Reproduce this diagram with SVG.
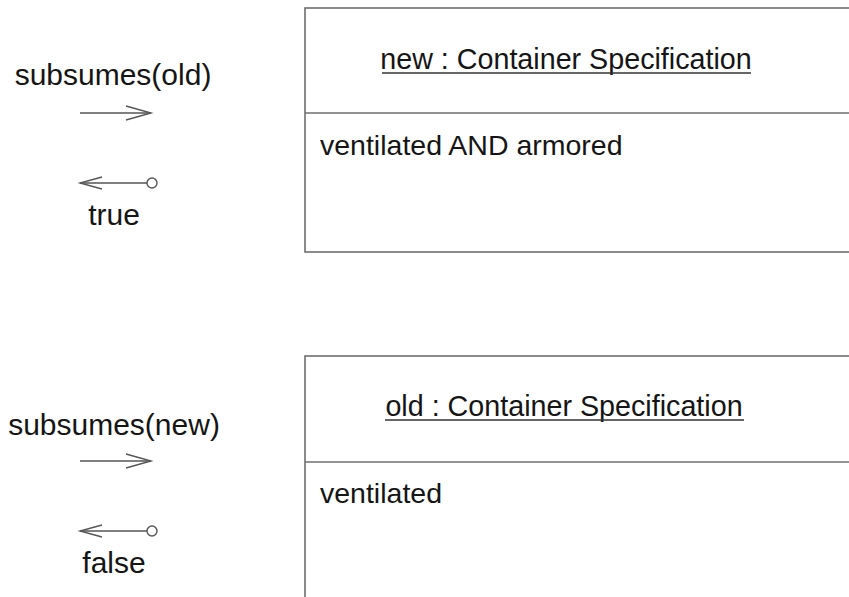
<svg xmlns="http://www.w3.org/2000/svg" width="849" height="597" viewBox="0 0 849 597">
<style>
.box{fill:#fff;stroke:#6e6e6e;stroke-width:1.6}
.div{stroke:#6e6e6e;stroke-width:1.6}
.t{font-family:"Liberation Sans",Arial,sans-serif;fill:#151515}
.title{font-size:28.7px}
.attr{font-size:28.5px}
.lbl{font-size:30px}
.msg{fill:none;stroke:#555;stroke-width:1.4}
.ul{stroke:#333;stroke-width:1.5}
</style>
<rect width="849" height="597" fill="#fff"/>
<g id="node-new">
<rect class="box" x="305" y="8" width="560" height="244"/>
<line class="div" x1="305" y1="113" x2="865" y2="113"/>
<text class="t title" x="566" y="69" text-anchor="middle">new : Container Specification</text>
<line class="ul" x1="382" y1="73" x2="751" y2="73"/>
<text class="t attr" x="320" y="155">ventilated AND armored</text>
</g>
<g id="node-old">
<rect class="box" x="305" y="356" width="560" height="260"/>
<line class="div" x1="305" y1="462" x2="865" y2="462"/>
<text class="t title" x="564" y="416" text-anchor="middle">old : Container Specification</text>
<line class="ul" x1="385" y1="420" x2="744" y2="420"/>
<text class="t attr" x="320" y="503">ventilated</text>
</g>
<g id="connectors">
<text class="t lbl" x="113" y="85" text-anchor="middle">subsumes(old)</text>
<line class="msg" x1="80" y1="113" x2="151" y2="113"/>
<polyline class="msg" points="126,106 151,113 126,120"/>
<line class="msg" x1="80" y1="183" x2="147" y2="183"/>
<polyline class="msg" points="102,177 80,183 102,189"/>
<circle class="msg" cx="152" cy="183" r="5" fill="#fff"/>
<text class="t lbl" x="114" y="225" text-anchor="middle">true</text>
<text class="t lbl" x="114" y="435" text-anchor="middle">subsumes(new)</text>
<line class="msg" x1="80" y1="461" x2="151" y2="461"/>
<polyline class="msg" points="126,454 151,461 126,468"/>
<line class="msg" x1="80" y1="531" x2="147" y2="531"/>
<polyline class="msg" points="102,525 80,531 102,537"/>
<circle class="msg" cx="152" cy="531" r="5" fill="#fff"/>
<text class="t lbl" x="114" y="573" text-anchor="middle">false</text>
</g>
</svg>
